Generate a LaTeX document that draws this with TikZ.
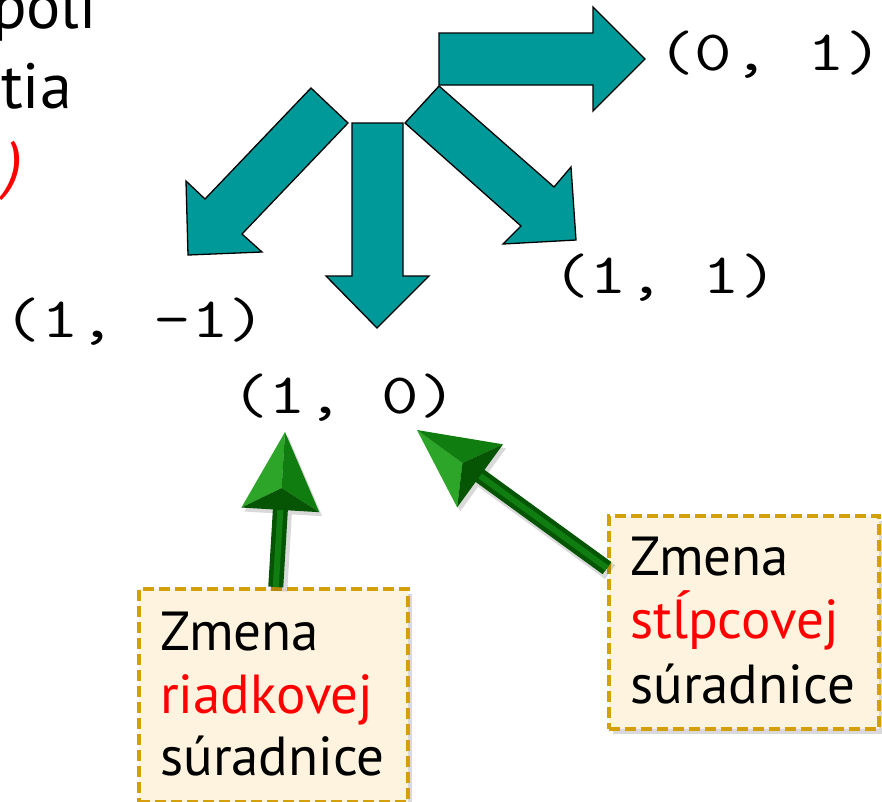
\documentclass[tikz,border=0pt]{standalone}
\usepackage{fontspec}
\usepackage{graphicx}
\setmainfont{PT Sans}
\usetikzlibrary{calc,shadows}
\definecolor{tealarrow}{RGB}{0,153,153}
\definecolor{boxfill}{RGB}{253,243,222}
\definecolor{boxline}{RGB}{212,160,10}
\definecolor{gdark}{RGB}{5,85,5}
\definecolor{gmid}{RGB}{15,125,15}
\definecolor{glight}{RGB}{45,165,40}
\definecolor{slred}{RGB}{255,0,0}
\newcommand\widett[1]{\scalebox{1.28}[1]{#1}}
\tikzset{
  bigarrow/.style={fill=tealarrow, draw=black, line width=1.3pt, line join=miter},
  coordlabel/.style={font=\ttfamily\fontsize{57}{66}\selectfont, anchor=base, inner sep=0pt},
  notebox/.style={draw=boxline, fill=boxfill, line width=3.5pt, dash pattern=on 11pt off 5pt,
    drop shadow={opacity=0.3, shadow xshift=4pt, shadow yshift=-5pt}, inner sep=0pt},
  notetext/.style={font=\fontsize{55}{63}\selectfont, anchor=base west, inner sep=0pt},
  fragtext/.style={font=\fontsize{64}{80}\selectfont, anchor=base east, inner sep=0pt},
}
\newcommand\grarrow[2]{%
  \coordinate (hb) at ($(#2)!78pt!(#1)$);
  \coordinate (hl) at ($(hb)!39pt!90:(#2)$);
  \coordinate (hr) at ($(hb)!39pt!-90:(#2)$);
  \coordinate (hc) at ($(#2)!0.72!(hb)$);
  \draw[black, opacity=0.15, line width=17pt, transform canvas={shift={(3pt,-4pt)}}] (#1) -- (hb);
  \fill[black, opacity=0.15, transform canvas={shift={(3pt,-4pt)}}] (#2) -- (hl) -- (hr) -- cycle;
  \draw[gdark, line width=15pt] (#1) -- ($(hb)!4pt!(#2)$);
  \draw[gmid, line width=6pt] (#1) -- ($(hb)!4pt!(#2)$);
  \fill[glight] (#2) -- (hl) -- (hc) -- cycle;
  \fill[gmid] (#2) -- (hr) -- (hc) -- cycle;
  \fill[gdark] (hl) -- (hr) -- (hc) -- cycle;
}
\begin{document}
\begin{tikzpicture}[x=1pt, y=-1pt]
\useasboundingbox (0,0) rectangle (882,801);
\clip (0,0) rectangle (882,801);

% fragments of cut-off text
\node[fragtext] (fragA) at (97,28) {poli};
\node[fragtext] (fragB) at (72,108) {tia};
\node[fragtext, text=slred, font=\fontsize{64}{80}\selectfont\itshape] (fragC) at (23,186) {)};

% teal block arrows
\draw[bigarrow] (439,33) -- (593,33) -- (593,7) -- (645,59) -- (593,111) -- (593,85) -- (439,85) -- cycle;
\draw[bigarrow] (352,123) -- (403,123) -- (403,276) -- (429,276) -- (377,328) -- (326,276) -- (352,276) -- cycle;
\draw[bigarrow] (311,88) -- (348,123) -- (242,234) -- (262,252) -- (188,255) -- (186,181) -- (205,199) -- cycle;
\draw[bigarrow] (439,86) -- (554,187) -- (571,167) -- (576,240) -- (503,244) -- (521,226) -- (405,123) -- cycle;

% coordinate labels
\node[coordlabel] (l01) at (770,70) {\widett{(0, 1)}};
\node[coordlabel] (l11) at (665,293) {\widett{(1, 1)}};
\node[coordlabel] (l1m1) at (135,337) {\widett{(1, -1)}};
\node[coordlabel] (l10) at (344,413) {\widett{(1, 0)}};

% note boxes
\node[notebox, anchor=north west, minimum width=269pt, minimum height=213pt] (lbox) at (137,587) {};
\node[notetext] (lt1) at (160,650) {Zmena};
\node[notetext, text=slred] (lt2) at (160,713) {riadkovej};
\node[notetext] (lt3) at (160,775) {súradnice};

\node[notebox, anchor=north west, minimum width=270pt, minimum height=213pt] (rbox) at (607,514) {};
\node[notetext] (rt1) at (630,575) {Zmena};
\node[notetext, text=slred] (rt2) at (630,638) {stĺpcovej};
\node[notetext] (rt3) at (630,703) {súradnice};

% green pointer arrows
\coordinate (ltail) at ($(lbox.north)+(2.5,0)$);
\coordinate (ltip) at (285,432);
\coordinate (rtail) at ($(rbox.north west)!0.25!(rbox.south west)$);
\coordinate (rtip) at (417,430);
\grarrow{ltail}{ltip}
\grarrow{rtail}{rtip}
\end{tikzpicture}
\end{document}
